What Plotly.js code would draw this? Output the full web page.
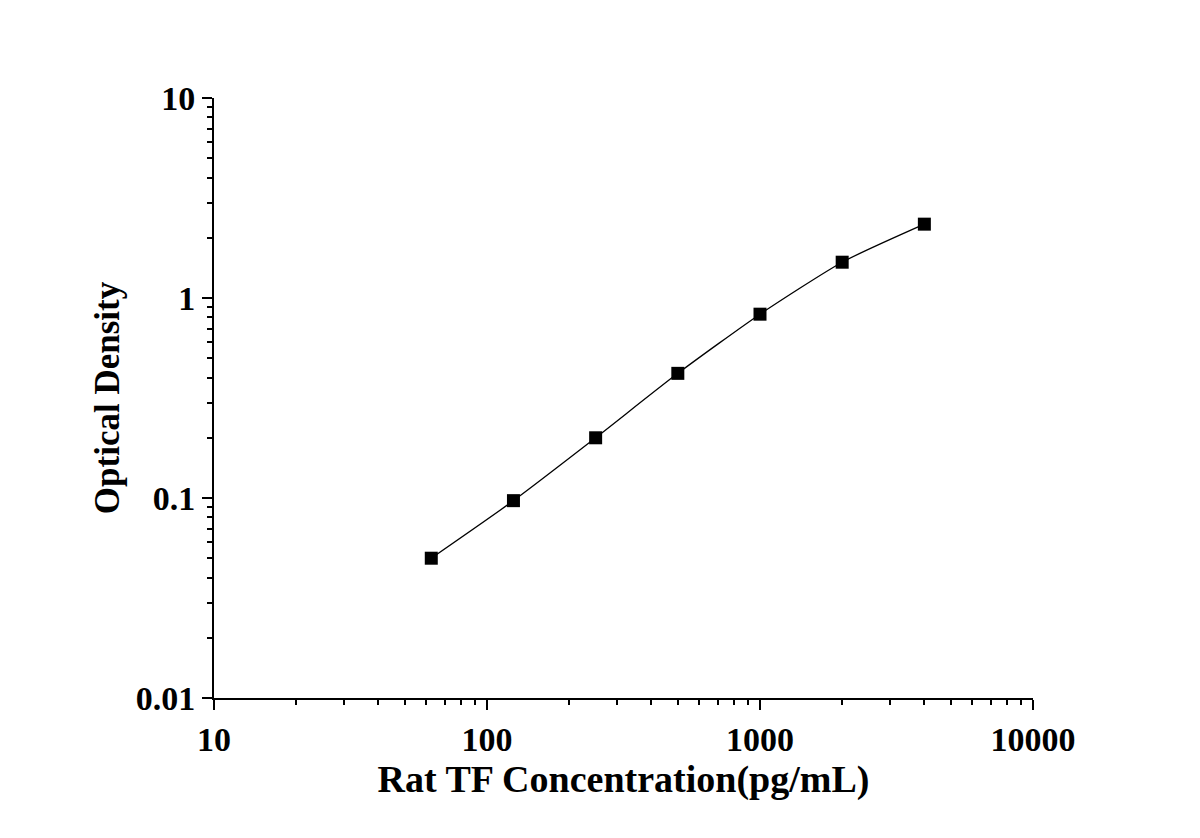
<!DOCTYPE html>
<html>
<head>
<meta charset="utf-8">
<script src="https://cdn.plot.ly/plotly-3.0.1.min.js"></script>
<style>
  body { margin: 0; background: #fff; }
  #chart { width: 1200px; height: 838px; }
</style>
</head>
<body>
<div id="chart"></div>
<script>
// standard curve points
var concentration = [62.5, 125, 250, 500, 1000, 2000, 4000];
var opticalDensity = [0.050, 0.097, 0.200, 0.420, 0.830, 1.51, 2.34];

var xTickVals = [10, 100, 1000, 10000];
var xTickText = ['10', '100', '1000', '10000'];
var yTickVals = [0.01, 0.1, 1, 10];
var yTickText = ['0.01', '0.1', '1', '10'];

var serif = 'Liberation Serif, Times New Roman, serif';

var trace = {
  x: concentration,
  y: opticalDensity,
  type: 'scatter',
  mode: 'lines+markers',
  line: {color: '#000', width: 1.3, shape: 'spline', smoothing: 0.6},
  marker: {symbol: 'square', size: 13, color: '#000'},
  showlegend: false
};

// shared axis look: bold serif labels, outside ticks, log minor ticks
function axisStyle(tickvals, ticktext, range, title, titleSize, standoff){
  return {
    type: 'log',
    range: range,
    tickmode: 'array',
    tickvals: tickvals,
    ticktext: ticktext,
    ticks: 'outside',
    ticklen: 10,
    tickwidth: 2,
    tickcolor: '#000',
    minor: {ticks: 'outside', ticklen: 5, tickwidth: 2, tickcolor: '#000', dtick: 'D1', showgrid: false},
    showline: true,
    linewidth: 2,
    linecolor: '#000',
    showgrid: false,
    zeroline: false,
    tickfont: {family: serif, size: 34, color: '#000', weight: 'bold'},
    title: {text: title, font: {family: serif, size: titleSize, color: '#000', weight: 'bold'}, standoff: standoff}
  };
}

var layout = {
  width: 1200,
  height: 838,
  paper_bgcolor: '#fff',
  plot_bgcolor: '#fff',
  margin: {l: 214, r: 167, t: 98, b: 140},
  xaxis: axisStyle(xTickVals, xTickText, [1, 4], 'Rat TF Concentration(pg/mL)', 38, 6),
  yaxis: axisStyle(yTickVals, yTickText, [-2, 1], 'Optical Density', 35, 5)
};

Plotly.newPlot('chart', [trace], layout, {displayModeBar: false, staticPlot: true});
</script>
</body>
</html>
